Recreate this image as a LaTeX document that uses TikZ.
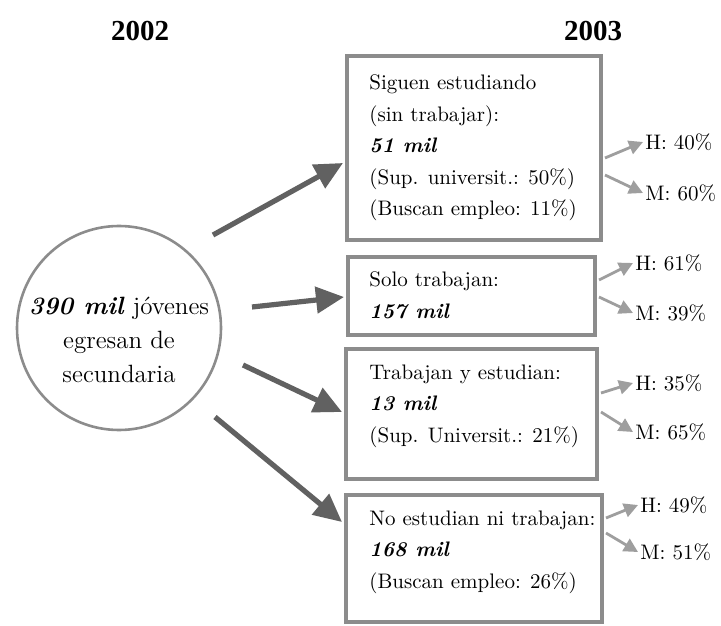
\documentclass[tikz,border=0pt]{standalone}
\usepackage{fontspec}
\newfontfamily\annee{Liberation Serif}
\usetikzlibrary{arrows.meta,calc}
\definecolor{cadre}{gray}{0.55}
\definecolor{fleche}{gray}{0.38}
\definecolor{flechette}{gray}{0.62}
\tikzset{
	boite/.style={draw=cadre,line width=2pt,inner sep=0pt},
	grande/.style={draw=fleche,line width=2.6pt,-{Triangle[length=14pt,width=13pt]}},
	petite/.style={draw=flechette,line width=1.4pt,-{Triangle[length=7pt,width=7pt]}},
	texte/.style={align=left,anchor=base west,inner sep=0pt,font=\fontsize{10.5}{15.75}\selectfont},
	pourcent/.style={anchor=west,inner sep=1pt,font=\fontsize{10.5}{12}\selectfont}
}
\begin{document}
\begin{tikzpicture}[x=0.5pt,y=-0.5pt]
	\useasboundingbox (0,0) rectangle (721,625);
	% Années
	\node[font=\annee\bfseries\fontsize{14.5}{16}\selectfont] (a2002) at (140,31) {2002};
	\node[font=\annee\bfseries\fontsize{14.5}{16}\selectfont] (a2003) at (593,31) {2003};
	%
	% Cercle de départ
	\node[draw=cadre,line width=1.3pt,circle,minimum size=102pt,inner sep=0pt] (egr) at (119,328) {};
	\node[align=center,inner sep=0pt,font=\fontsize{12.5}{17}\selectfont] (egrt) at ($(egr)+(0,12)$) {\textbf{\textit{390 mil}} jóvenes\\egresan de\\secundaria};
	%
	% Les quatre cadres de 2003 (texte placé par la ligne de base de sa dernière ligne)
	\node[boite,minimum width=127pt,minimum height=92pt] (b1) at (474,148) {};
	\node[boite,minimum width=123.5pt,minimum height=39pt] (b2) at (471.5,296) {};
	\node[boite,minimum width=125.5pt,minimum height=65pt] (b3) at (471.5,414) {};
	\node[boite,minimum width=128pt,minimum height=63.5pt] (b4) at (474,558.5) {};
	\node[texte] (t1) at (369,216) {Siguen estudiando\\(sin trabajar):\\\textbf{\textit{51 mil}}\\(Sup. universit.: 50\%)\\(Buscan empleo: 11\%)};
	\node[texte] (t2) at (369,318) {Solo trabajan:\\\textbf{\textit{157 mil}}};
	\node[texte] (t3) at (369,442) {Trabajan y estudian:\\\textbf{\textit{13 mil}}\\(Sup. Universit.: 21\%)};
	\node[texte] (t4) at (369,588) {No estudian ni trabajan:\\\textbf{\textit{168 mil}}\\(Buscan empleo: 26\%)};
	%
	% Grandes flèches
	\draw[grande] ($(egr.center)+(94,-93)$) -- ($(b1.west)+(-2,15)$);
	\draw[grande] ($(egr.center)+(133,-21)$) -- ($(b2.west)+(-2,1)$);
	\draw[grande] ($(egr.center)+(124,37)$) -- ($(b3.west)+(-2,-2)$);
	\draw[grande] ($(egr.center)+(96,89)$) -- ($(b4.west)+(-2,-36.5)$);
	%
	% Répartition hommes / femmes
	\foreach \b/\dh/\dm/\xh/\yh/\ym/\vh/\vm in {1/10/27/643/142/193/40/60,
		2/-16/1/633/263/313/61/39, 3/-21/-2/633/383/432/35/65, 4/-40.5/-25.5/638/505/552/49/51}{
		\node[pourcent] (h\b) at (\xh,\yh) {H: \vh\%};
		\node[pourcent] (m\b) at (\xh,\ym) {M: \vm\%};
		\draw[petite] ($(b\b.east)+(2,\dh)$) -- (h\b.west);
		\draw[petite] ($(b\b.east)+(2,\dm)$) -- (m\b.west);
	};
\end{tikzpicture}
\end{document}
